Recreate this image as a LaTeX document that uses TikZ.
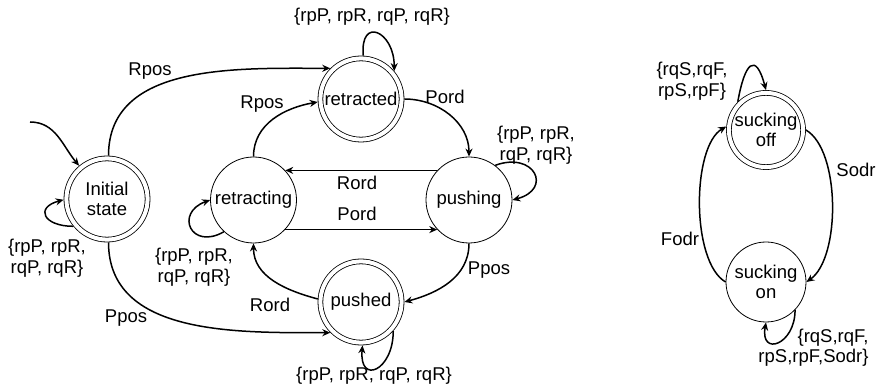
\documentclass[tikz,border=0pt]{standalone}
\usepackage{fontspec}
\setmainfont{Liberation Sans}
\usetikzlibrary{arrows.meta}

\tikzset{
    stnode/.style={circle, draw, line width=0.8pt, minimum size=86pt, inner sep=0pt, align=center},
    accnode/.style={stnode, double, double distance=4pt, minimum size=81.2pt, outer sep=2.8pt},
    trans/.style={-{Stealth[length=8pt, width=7pt]}, line width=1.5pt},
    lbl/.style={align=center, inner sep=0pt}
}

\begin{document}
\begin{tikzpicture}[x=10pt, y=10pt, font=\fontsize{18.5}{20.5}\selectfont]
    \useasboundingbox (0, 0) rectangle (88.1, 39.1);

    % states of the pusher
    \node[accnode] (init) at (10.7, 19.2) {Initial\\state};
    \node[stnode] (retracting) at (25.35, 19.1) {retracting};
    \node[stnode] (pushing) at (46.9, 19.1) {pushing};
    \node[accnode] (retracted) at (36.1, 29.2) {retracted};
    \node[accnode] (pushed) at (36.1, 8.9) {pushed};

    % states of the sucker
    \node[accnode, minimum size=74.2pt] (suckoff) at (76.6, 26.1) {sucking\\off};
    \node[stnode, minimum size=80pt] (suckon) at (76.6, 10.9) {sucking\\on};

    % initial arrow
    \coordinate (start) at (3.0, 26.9);
    \draw[trans] (start) to[out=0, in=130] (init);

    % transitions of the pusher
    \draw[trans] (init.88) to[out=90, in=180] (retracted.135);
    \draw[trans] (init.272) to[out=-90, in=180] (pushed.225);
    \draw[trans] (retracting.90) to[out=90, in=190] (retracted.184);
    \draw[trans] (retracted.0) to[out=0, in=90] (pushing.90);
    \draw[trans] (pushing.137) -- (retracting.43);
    \draw[trans] (retracting.-43) -- (pushing.223);
    \draw[trans] (pushing.270) to[out=-90, in=15] (pushed.0);
    \draw[trans] (pushed.176) to[out=165, in=-90] (retracting.-90);

    % self loops of the pusher
    \draw[trans] (init.219) .. controls +(180:30pt) and +(195:30pt) .. (init.181);
    \draw[trans] (retracting.227) .. controls +(210:38pt) and +(200:38pt) .. (retracting.180);
    \draw[trans] (retracted.87) .. controls +(95:40pt) and +(90:40pt) .. (retracted.40);
    \draw[trans] (pushed.-42) .. controls +(-90:40pt) and +(-95:40pt) .. (pushed.-88);
    \draw[trans] (pushing.53) .. controls +(20:42pt) and +(15:42pt) .. (pushing.0);

    % transitions of the sucker
    \draw[trans] (suckoff.0) .. controls +(-30:40pt) and +(35:42pt) .. (suckon.0);
    \draw[trans] (suckon.180) .. controls +(150:40pt) and +(210:40pt) .. (suckoff.175);
    \draw[trans] (suckoff.135) .. controls +(80:40pt) and +(105:40pt) .. (suckoff.90);
    \draw[trans] (suckon.-44) .. controls +(-90:35pt) and +(-100:35pt) .. (suckon.-90);

    % labels
    \node[lbl] (lRposA) at (15.0, 32.0) {Rpos};
    \node[lbl] (lRposB) at (26.2, 28.7) {Rpos};
    \node[lbl] (lPordA) at (44.5, 29.4) {Pord};
    \node[lbl] (lRordA) at (35.7, 20.8) {Rord};
    \node[lbl] (lPordB) at (35.7, 17.7) {Pord};
    \node[lbl] (lPposA) at (48.9, 12.1) {Ppos};
    \node[lbl] (lRordB) at (27.0, 8.6) {Rord};
    \node[lbl] (lPposB) at (12.6, 7.3) {Ppos};
    \node[lbl] (lInit) at (4.7, 13.3) {\{rpP, rpR,\\rqP, rqR\}};
    \node[lbl] (lRetracting) at (19.4, 12.4) {\{rpP, rpR,\\rqP, rqR\}};
    \node[lbl] (lRetracted) at (37.2, 37.4) {\{rpP, rpR, rqP, rqR\}};
    \node[lbl] (lPushed) at (37.4, 1.55) {\{rpP, rpR, rqP, rqR\}};
    \node[lbl] (lPushing) at (53.6, 24.6) {\{rpP, rpR,\\rqP, rqR\}};
    \node[lbl] (lSuckoff) at (69.2, 31.0) {\{rqS,rqF,\\rpS,rpF\}};
    \node[lbl] (lSodr) at (85.6, 22.1) {Sodr};
    \node[lbl] (lFodr) at (68.0, 15.2) {Fodr};
    \node[lbl, align=right] (lSuckon) at (81.35, 4.35) {\{rqS,rqF,\\rpS,rpF,Sodr\}};
\end{tikzpicture}
\end{document}
